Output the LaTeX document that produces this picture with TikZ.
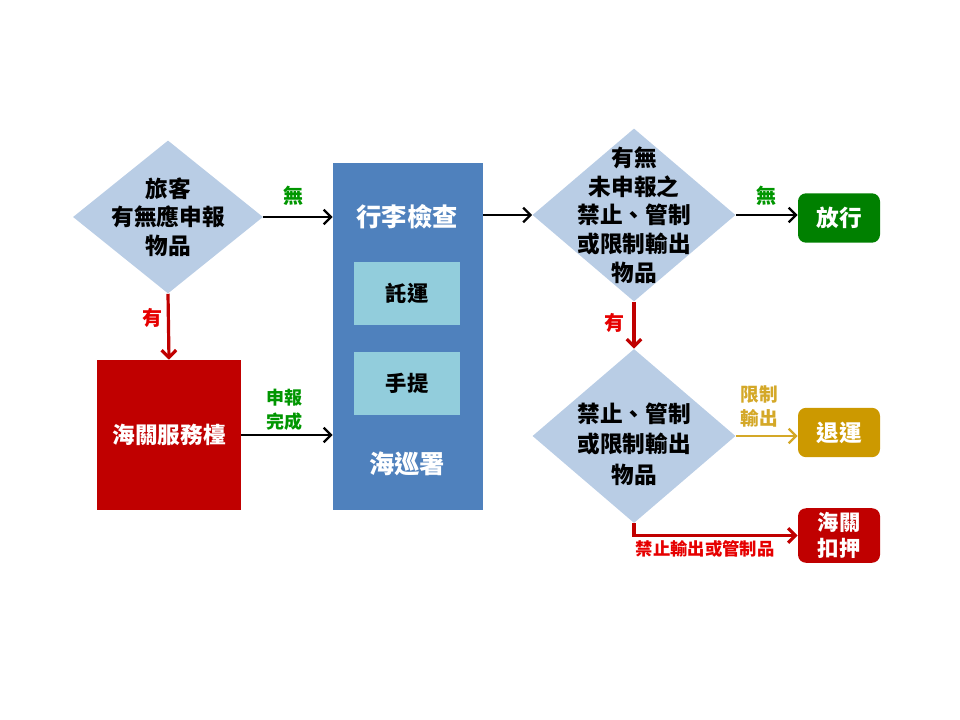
\documentclass[tikz,border=0pt]{standalone}
\usepackage{fontspec}
\setmainfont{Noto Sans CJK TC}
\usetikzlibrary{shapes.geometric,arrows.meta}
\definecolor{diafill}{HTML}{B9CDE5}
\definecolor{patrol}{HTML}{4F81BD}
\definecolor{bagfill}{HTML}{92CDDC}
\definecolor{customs}{HTML}{C00000}
\definecolor{passgreen}{RGB}{0,128,0}
\definecolor{lblgreen}{RGB}{0,150,0}
\definecolor{returngold}{RGB}{204,153,0}
\definecolor{lblgold}{RGB}{212,168,40}
\definecolor{lblred}{RGB}{230,0,0}
\begin{document}
\begin{tikzpicture}[x=0.75pt,y=-0.75pt,
  decision/.style={diamond,fill=diafill,inner sep=-40pt,align=center,
    font=\bfseries\fontsize{17}{21.5}\selectfont},
  result/.style={rounded corners=6pt,minimum width=61.5pt,minimum height=37pt,
    text=white,align=center,font=\bfseries\fontsize{17}{20}\selectfont},
  lbl/.style={align=center,font=\bfseries\fontsize{15}{18}\selectfont},
  flow/.style={line width=1.8pt,-{Straight Barb[length=5.5pt,width=11pt]}},
  redflow/.style={flow,line width=2.4pt,color=customs}]
  \useasboundingbox (0,0) rectangle (960,720);
  % left: traveller declares or not
  \node[decision,minimum width=142.5pt,minimum height=114.75pt] (ask) at (168,217)
    {旅客\\有無應申報\\物品};
  \node[fill=customs,minimum width=108pt,minimum height=112.5pt,text=white,
    font=\bfseries\fontsize{17}{20}\selectfont] (desk) at (169,435) {海關服務檯};
  % middle: baggage check by coast guard
  \node[fill=patrol,minimum width=112.5pt,minimum height=260.25pt] (check) at (408,336.5) {};
  \node[text=white,font=\bfseries\fontsize{19}{22}\selectfont] (checktitle) at (407,217) {行李檢查};
  \node[fill=bagfill,minimum width=79.5pt,minimum height=47.25pt,
    font=\bfseries\fontsize{16}{20}\selectfont] (hold) at (407,293.5) {託運};
  \node[fill=bagfill,minimum width=79.5pt,minimum height=47.25pt,
    font=\bfseries\fontsize{16}{20}\selectfont] (carry) at (407,383.5) {手提};
  \node[text=white,font=\bfseries\fontsize{19}{22}\selectfont] (guard) at (407,464) {海巡署};
  % right: inspection results
  \node[decision,minimum width=152.25pt,minimum height=129.75pt] (found) at (634,215)
    {有無\\未申報之\\禁止、管制\\或限制輸出\\物品};
  \node[decision,minimum width=152.25pt,minimum height=130.5pt,
    label={[name=kindtext,align=center,yshift=-6pt,font=\bfseries\fontsize{17}{23}\selectfont]center:禁止、管制\\或限制輸出\\物品}]
    (kind) at (634,436) {};
  \node[result,fill=passgreen] (pass) at (839,218) {放行};
  \node[result,fill=returngold] (back) at (839,432.5) {退運};
  \node[result,fill=customs,font=\bfseries\fontsize{16}{19}\selectfont] (seize) at (839,535.5) {海關\\扣押};
  % connectors
  \draw[flow] (ask.east) -- (ask.east -| check.west);
  \node[lbl,text=lblgreen] (askno) at (293,196) {無};
  \draw[redflow] (ask.south) -- (desk.north);
  \node[lbl,text=lblred] (askyes) at (152,318) {有};
  \draw[flow] (desk.east) -- (desk.east -| check.west);
  \node[lbl,text=lblgreen,font=\bfseries\fontsize{13.5}{18}\selectfont] (done) at (284,410) {申報\\完成};
  \draw[flow] (check.east |- found) -- (found.west);
  \draw[flow] (found.east) -- (found.east -| pass.west);
  \node[lbl,text=lblgreen] (foundno) at (766,196) {無};
  \draw[redflow] (found.south) -- (kind.north);
  \node[lbl,text=lblred] (foundyes) at (614,323) {有};
  \draw[flow,color=lblgold] (kind.east) -- (kind.east -| back.west);
  \node[lbl,text=lblgold,font=\bfseries\fontsize{14}{18}\selectfont] (limit) at (759,406) {限制\\輸出};
  \draw[redflow] (kind.south) |- (seize.west);
  \node[lbl,text=lblred,font=\bfseries\fontsize{13}{16}\selectfont] (banned) at (705,549) {禁止輸出或管制品};
\end{tikzpicture}
\end{document}
